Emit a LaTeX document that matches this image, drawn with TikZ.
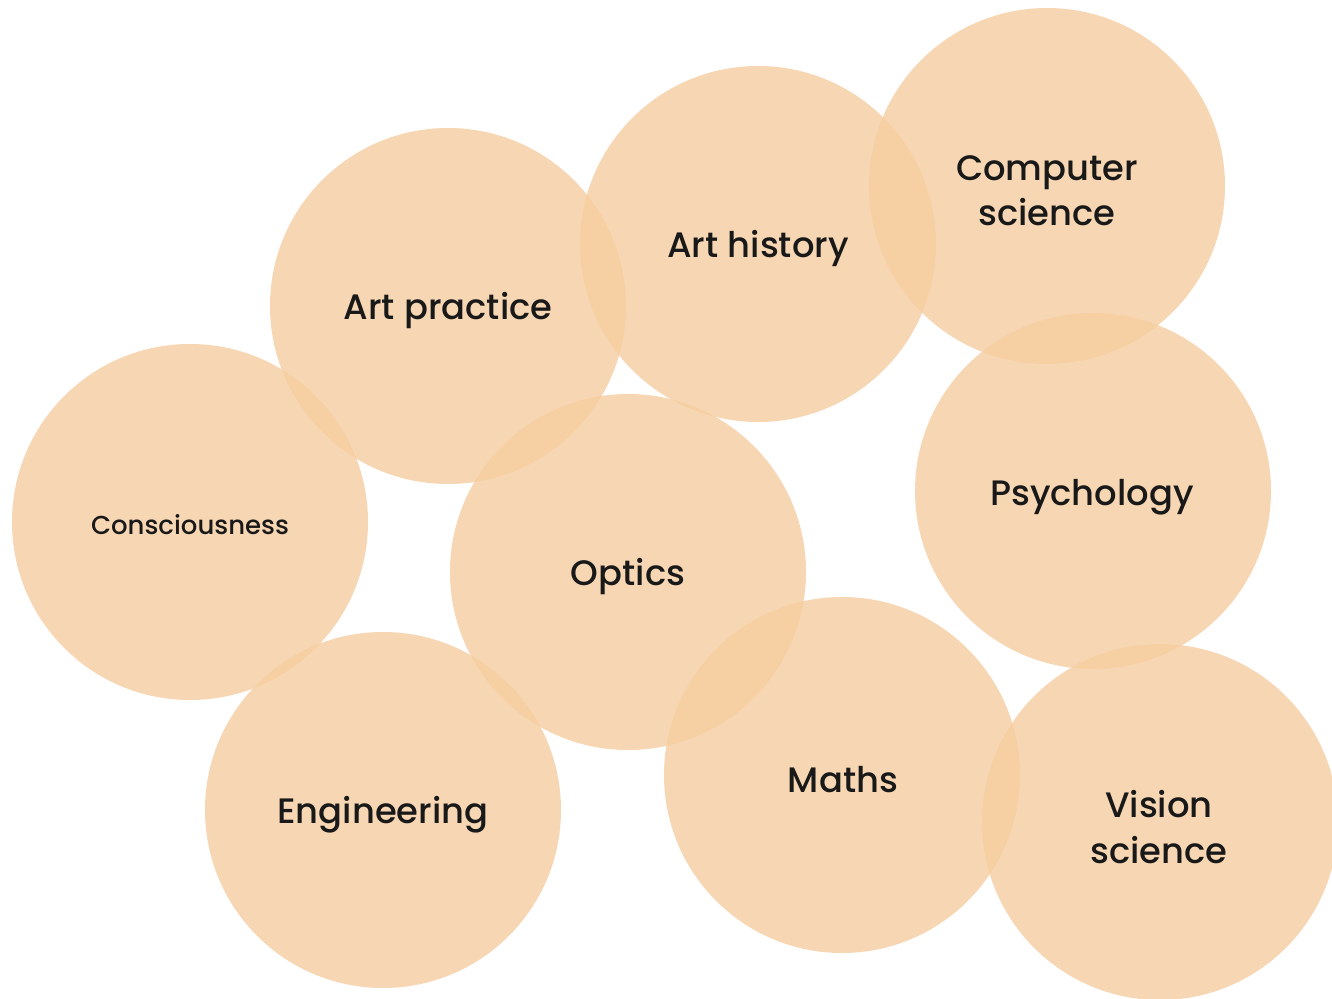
\documentclass[tikz,border=0pt]{standalone}
\usepackage{fontspec}
\setmainfont{Poppins}[UprightFont={* Medium}]
\definecolor{peach}{RGB}{246,205,160}
\begin{document}
\begin{tikzpicture}[x=0.75pt,y=-0.75pt,
  topic/.style={circle,fill=peach,fill opacity=0.8,draw=none,minimum size=356pt*0.75,inner sep=0pt},
  label/.style={text=black!90,font=\fontsize{26.5}{34}\selectfont,align=center,text opacity=1},
  small/.style={label,font=\fontsize{19.5}{22}\selectfont}]
\useasboundingbox (0,0) rectangle (1332,999);
\clip (0,0) rectangle (1332,999);
\fill[white] (0,0) rectangle (1332,999);
% the discs
\node[topic] (artpractice) at (448,306) {};
\node[topic] (arthistory) at (758,244) {};
\node[topic] (compsci) at (1047,186) {};
\node[topic] (consc) at (190,522) {};
\node[topic] (optics) at (628,572) {};
\node[topic] (psych) at (1093,491) {};
\node[topic] (eng) at (383,810) {};
\node[topic] (maths) at (842,775) {};
\node[topic] (vision) at (1160,822) {};
% the labels
\node[label] (tartpractice) at (448,311) {Art practice};
\node[label] (tarthistory) at (758,248) {Art history};
\node[label] (tcompsci) at (1047,191) {Computer\\science};
\node[small] (tconsc) at (190,525) {Consciousness};
\node[label] (toptics) at (628,577) {Optics};
\node[label] (tpsych) at (1092,497) {Psychology};
\node[label] (teng) at (383,815) {Engineering};
\node[label] (tmaths) at (843,780) {Maths};
\node[label] (tvision) at (1159,827) {Vision\\science};
\end{tikzpicture}
\end{document}
